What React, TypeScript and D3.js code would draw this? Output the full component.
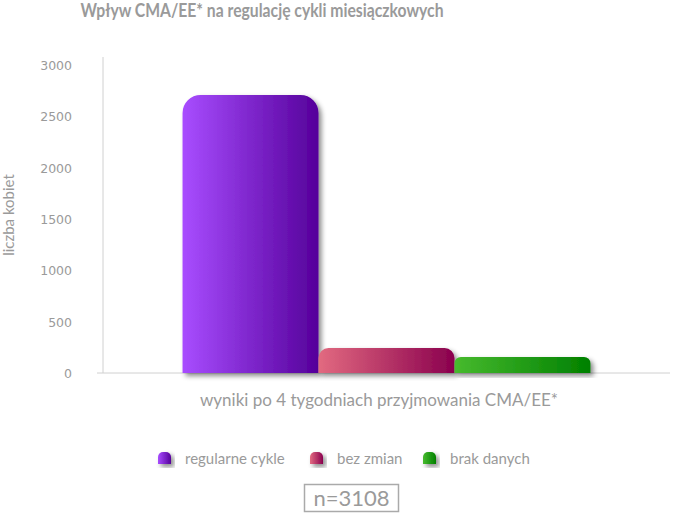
import React, { useEffect, useRef } from 'react';
import * as d3 from 'd3';

const categories = ['wyniki po 4 tygodniach przyjmowania CMA/EE*'];
const seriesNames = ['regularne cykle', 'bez zmian', 'brak danych'];
const seriesValues = [2709, 243, 156];
const yTicks = [0, 500, 1000, 1500, 2000, 2500, 3000];
const gradients = [
  ['#a84dff', '#55009a'],
  ['#e26a80', '#8a004e'],
  ['#47ba2e', '#008000'],
];

const W = 675;
const H = 513;
const FONT = 'Lato, "Open Sans", sans-serif';
const GREY = '#9a9a9a';

function topRounded(x: number, y: number, w: number, h: number, r: number) {
  const p = d3.path();
  p.moveTo(x, y + h);
  p.lineTo(x, y + r);
  p.arcTo(x, y, x + r, y, r);
  p.lineTo(x + w - r, y);
  p.arcTo(x + w, y, x + w, y + r, r);
  p.lineTo(x + w, y + h);
  p.closePath();
  return p.toString();
}

const App = () => {
  const svgRef = useRef<SVGSVGElement>(null);

  useEffect(() => {
    const svg = d3.select(svgRef.current);
    svg.selectAll('*').remove();

    const x0 = d3.scaleBand().domain(categories).range([103, 670]).paddingOuter(0.195).paddingInner(0);
    const x1 = d3.scaleBand().domain(seriesNames).range([0, x0.bandwidth()]).padding(0);
    const y = d3.scaleLinear().domain([0, 3000]).range([373, 65]);

    const defs = svg.append('defs');
    gradients.forEach((g, i) => {
      const lg = defs.append('linearGradient').attr('id', `grad${i}`).attr('x1', 0).attr('x2', 1).attr('y1', 0).attr('y2', 0);
      lg.append('stop').attr('offset', '0%').attr('stop-color', g[0]);
      lg.append('stop').attr('offset', '100%').attr('stop-color', g[1]);
    });
    const f = defs.append('filter').attr('id', 'shadow').attr('x', '-20%').attr('y', '-20%').attr('width', '150%').attr('height', '150%');
    f.append('feDropShadow').attr('dx', 3).attr('dy', 3).attr('stdDeviation', 2.5)
      .attr('flood-color', '#000').attr('flood-opacity', 0.45);

    // title
    svg.append('text')
      .attr('x', 262).attr('y', 17)
      .attr('text-anchor', 'middle')
      .attr('fill', GREY)
      .attr('textLength', 363)
      .attr('lengthAdjust', 'spacingAndGlyphs')
      .style('font-family', FONT)
      .style('font-size', '18px')
      .style('font-weight', 'bold')
      .text('Wpływ CMA/EE* na regulację cykli miesiączkowych');

    // axes lines
    svg.append('line').attr('x1', 103).attr('x2', 103).attr('y1', 57).attr('y2', y(0))
      .attr('stroke', '#d0d0d0').attr('stroke-width', 1);
    svg.append('line').attr('x1', 97).attr('x2', 670).attr('y1', y(0)).attr('y2', y(0))
      .attr('stroke', '#d0d0d0').attr('stroke-width', 1);

    svg.append('g').selectAll('text').data(yTicks).enter().append('text')
      .attr('x', 72).attr('y', d => y(d) + 5)
      .attr('text-anchor', 'end')
      .attr('fill', GREY)
      .style('font-family', '"DejaVu Sans", sans-serif')
      .style('font-size', '12.5px')
      .text(d => d);

    svg.append('text')
      .attr('transform', `translate(14,215) rotate(-90)`)
      .attr('text-anchor', 'middle')
      .attr('fill', GREY)
      .style('font-family', FONT)
      .style('font-size', '15px')
      .text('liczba kobiet');

    // bars
    const g = svg.append('g').attr('transform', `translate(${x0(categories[0])},0)`);
    g.selectAll('path').data(seriesValues).enter().append('path')
      .attr('d', (d, i) => {
        const bx = x1(seriesNames[i]) as number;
        const h = y(0) - y(d);
        return topRounded(bx, y(d), x1.bandwidth(), h, Math.min(18, h * 0.4));
      })
      .attr('fill', (d, i) => `url(#grad${i})`)
      .attr('filter', 'url(#shadow)');

    svg.append('text')
      .attr('x', 379).attr('y', 406)
      .attr('text-anchor', 'middle')
      .attr('fill', GREY)
      .style('font-family', FONT)
      .style('font-size', '17px')
      .text(categories[0]);

    // legend
    const legendX = [158, 310, 423];
    const lg = svg.append('g');
    seriesNames.forEach((name, i) => {
      lg.append('path')
        .attr('d', topRounded(legendX[i], 452, 13, 12, 5))
        .attr('fill', `url(#grad${i})`)
        .attr('filter', 'url(#shadow)');
      lg.append('text')
        .attr('x', legendX[i] + 27).attr('y', 464)
        .attr('fill', GREY)
        .style('font-family', FONT)
        .style('font-size', '15px')
        .text(name);
    });

    // n box
    svg.append('rect').attr('x', 304.5).attr('y', 484.5).attr('width', 94).attr('height', 27)
      .attr('fill', 'none').attr('stroke', '#aaa').attr('stroke-width', 1.5);
    svg.append('text')
      .attr('x', 351.5).attr('y', 506)
      .attr('text-anchor', 'middle')
      .attr('fill', GREY)
      .style('font-family', FONT)
      .style('font-size', '22px')
      .text('n=' + d3.sum(seriesValues));
  }, []);

  return (
    <svg ref={svgRef} width={W} height={H}
      style={{ position: 'absolute', left: 0, top: 0, background: '#fff' }} />
  );
};

export default App;
